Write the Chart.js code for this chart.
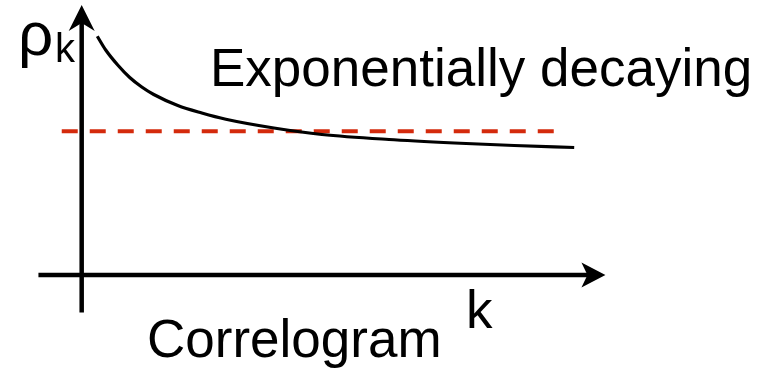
<!DOCTYPE html>
<html>
<head>
<meta charset="utf-8">
<script src="https://cdn.jsdelivr.net/npm/chart.js@4.4.0/dist/chart.umd.min.js"></script>
<style>
  html, body { margin: 0; padding: 0; background: #fff; }
  #wrap { width: 764px; height: 370px; }
</style>
</head>
<body>
<div id="wrap"><canvas id="chart"></canvas></div>
<script>
// lag k and sample autocorrelation rho_k
const lags = [0.65, 1, 1.5, 2, 2.5, 3, 4, 5, 6, 8, 10, 13, 16, 18, 20.5];
const acf = [0.955, 0.900, 0.840, 0.790, 0.752, 0.722, 0.678, 0.648, 0.623, 0.588, 0.562, 0.541, 0.526, 0.518, 0.510];

// horizontal reference level and the lags it spans
const refLevel = 0.575;
const refLags = [-0.83, 19.8];

// extent of the drawn axes (in data units)
const kAxis = [-1.8, 21.8];
const rhoAxis = [-0.15, 1.08];

const FONT = '"Liberation Sans", Arial, sans-serif';

function arrowHead(ctx, tx, ty, dx, dy, len, half, notch) {
  // dx,dy: unit direction the arrow points to
  const bx = tx - dx * len, by = ty - dy * len;
  const nx = tx - dx * notch, ny = ty - dy * notch;
  ctx.beginPath();
  ctx.moveTo(tx, ty);
  ctx.lineTo(bx - dy * half, by + dx * half);
  ctx.lineTo(nx, ny);
  ctx.lineTo(bx + dy * half, by - dx * half);
  ctx.closePath();
  ctx.fill();
}

const arrowAxes = {
  id: 'arrowAxes',
  beforeDatasetsDraw(chart) {
    const { ctx, scales: { x, y } } = chart;
    const x0 = x.getPixelForValue(0);
    const y0 = y.getPixelForValue(0);
    const xl = x.getPixelForValue(kAxis[0]);
    const xr = x.getPixelForValue(kAxis[1]);
    const yb = y.getPixelForValue(rhoAxis[0]);
    const yt = y.getPixelForValue(rhoAxis[1]);
    ctx.save();
    ctx.strokeStyle = '#000';
    ctx.fillStyle = '#000';
    ctx.lineWidth = 4.5;
    ctx.beginPath();
    ctx.moveTo(xl, y0);
    ctx.lineTo(xr - 12, y0);
    ctx.moveTo(x0, yb);
    ctx.lineTo(x0, yt + 12);
    ctx.stroke();
    arrowHead(ctx, xr, y0, 1, 0, 24, 12.5, 18);
    arrowHead(ctx, x0, yt, 0, -1, 26, 13, 18);
    ctx.restore();
  },
  afterDraw(chart) {
    const { ctx } = chart;
    ctx.save();
    ctx.fillStyle = '#000';
    ctx.textBaseline = 'alphabetic';
    ctx.textAlign = 'left';
    ctx.font = '53px ' + FONT;
    ctx.fillText('Exponentially decaying', 210, 86);
    ctx.fillText('Correlogram', 147, 357);
    ctx.fillText('k', 466, 328);
    ctx.font = '62px ' + FONT;
    ctx.fillText('\u03C1', 18, 55);
    ctx.font = '40px ' + FONT;
    ctx.fillText('k', 55, 62);
    ctx.restore();
  }
};

new Chart(document.getElementById('chart'), {
  type: 'line',
  data: {
    datasets: [
      {
        label: 'rho_k',
        data: lags.map((k, i) => ({ x: k, y: acf[i] })),
        borderColor: '#000',
        borderWidth: 3.2,
        pointRadius: 0,
        fill: false,
        cubicInterpolationMode: 'monotone'
      },
      {
        label: 'reference',
        data: refLags.map(k => ({ x: k, y: refLevel })),
        borderColor: '#d42a0c',
        borderWidth: 4,
        borderDash: [16, 12],
        pointRadius: 0,
        fill: false
      }
    ]
  },
  options: {
    responsive: true,
    maintainAspectRatio: false,
    animation: false,
    layout: { padding: 0 },
    plugins: {
      legend: { display: false },
      tooltip: { enabled: false }
    },
    scales: {
      x: { type: 'linear', display: false, min: -3.4, max: 28.4 },
      y: { type: 'linear', display: false, min: -0.38, max: 1.1 }
    }
  },
  plugins: [arrowAxes]
});
</script>
</body>
</html>
